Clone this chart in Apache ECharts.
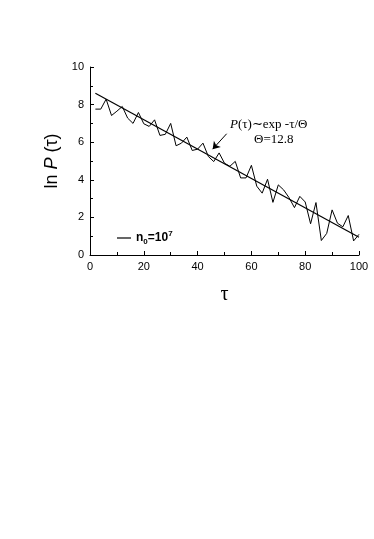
<!DOCTYPE html>
<html>
<head>
<meta charset="UTF-8">
<script src="https://cdn.jsdelivr.net/npm/echarts@6/dist/echarts.min.js"></script>
</head>
<body style="margin:0;background:#fff">
<div id="container" style="width:374px;height:539px;"></div>
<script>
// tau values (every 2 steps) and ln P(tau)
var tau = [2,4,6,8,10,12,14,16,18,20,22,24,26,28,30,32,34,36,38,40,42,44,46,48,50,
           52,54,56,58,60,62,64,66,68,70,72,74,76,78,80,82,84,86,88,90,92,94,96,98,100];
var lnP = [7.76,7.76,8.29,7.42,7.65,7.9,7.28,7.0,7.58,6.98,6.84,7.19,6.36,6.42,7.0,5.81,5.95,6.27,5.56,5.63,5.95,5.24,4.97,5.43,4.88,
           4.72,4.98,4.1,4.1,4.77,3.66,3.29,4.03,2.8,3.73,3.46,3.05,2.52,3.12,2.82,1.66,2.79,0.77,1.15,2.4,1.69,1.5,2.1,0.75,1.1];
// fitted line ln P = a - tau/Theta, Theta = 12.8
var fitTau = [2, 100];
var fitVal = [8.6, 0.94];
var arrowFrom = [50.8, 6.45];
var arrowTo = [45.6, 5.63];

var dom = document.getElementById("container");
var myChart = echarts.init(dom, null, { renderer: "canvas" });

var option = {
    animation: false,
    grid: { left: 90, right: 15, top: 67, bottom: 284 },
    legend: {
        data: [{ name: 'n0', icon: 'rect' }],
        left: 112, top: 225,
        itemWidth: 14, itemHeight: 1.2, itemGap: 4,
        formatter: function () { return '{b|n}{s|0}{b|=10}{p|7}'; },
        textStyle: {
            color: '#000',
            rich: {
                b: { fontFamily: 'Liberation Sans', fontWeight: 'bold', fontSize: 12, lineHeight: 16, verticalAlign: 'middle' },
                s: { fontFamily: 'Liberation Sans', fontWeight: 'bold', fontSize: 8, lineHeight: 16, verticalAlign: 'bottom' },
                p: { fontFamily: 'Liberation Sans', fontWeight: 'bold', fontSize: 8, lineHeight: 16, verticalAlign: 'top' }
            }
        }
    },
    xAxis: {
        type: 'value', min: 0, max: 100, interval: 20,
        name: 'τ', nameLocation: 'middle', nameGap: 30,
        nameTextStyle: { fontFamily: 'Liberation Serif', fontSize: 20, color: '#000' },
        axisLine: { lineStyle: { color: '#000', width: 1 } },
        axisTick: { inside: true, length: 4, lineStyle: { color: '#000' } },
        minorTick: { show: true, splitNumber: 2, length: 3, lineStyle: { color: '#000' } },
        axisLabel: { margin: 6, fontFamily: 'Liberation Sans', fontSize: 11, color: '#000' },
        splitLine: { show: false }
    },
    yAxis: {
        type: 'value', min: 0, max: 10, interval: 2,
        name: '{t|ln }{i|P}{t| (τ)}', nameLocation: 'middle', nameGap: 18,
        nameTextStyle: {
            color: '#000',
            rich: {
                t: { fontFamily: 'Liberation Sans', fontSize: 18, color: '#000' },
                i: { fontFamily: 'Liberation Sans', fontSize: 18, fontStyle: 'italic', color: '#000' }
            }
        },
        axisLine: { show: true, lineStyle: { color: '#000', width: 1 } },
        axisTick: { show: true, inside: true, length: 4, lineStyle: { color: '#000' } },
        minorTick: { show: true, splitNumber: 2, length: 3, lineStyle: { color: '#000' } },
        axisLabel: { margin: 6, fontFamily: 'Liberation Sans', fontSize: 11, color: '#000' },
        splitLine: { show: false }
    },
    series: [
        {
            name: 'n0', type: 'line', symbol: 'none',
            data: tau.map(function (t, i) { return [t, lnP[i]]; }),
            lineStyle: { color: '#000', width: 1 },
            itemStyle: { color: '#000' },
            markLine: {
                silent: true,
                symbol: ['none', 'arrow'], symbolSize: 7,
                label: { show: false },
                lineStyle: { color: '#000', width: 1, type: 'solid' },
                data: [[{ coord: arrowFrom }, { coord: arrowTo }]]
            }
        },
        {
            name: 'fit', type: 'line', symbol: 'none',
            data: fitTau.map(function (t, i) { return [t, fitVal[i]]; }),
            lineStyle: { color: '#000', width: 1.2 }
        }
    ],
    graphic: [
        {
            type: 'text', left: 230, top: 118,
            style: {
                text: '{i|P}{t|(τ)∼exp -τ/Θ}',
                rich: {
                    i: { fontFamily: 'Liberation Serif', fontSize: 13, fontStyle: 'italic', fill: '#000' },
                    t: { fontFamily: 'Liberation Serif', fontSize: 13, fill: '#000' }
                }
            }
        },
        {
            type: 'text', left: 254, top: 133,
            style: { text: 'Θ=12.8', fontFamily: 'Liberation Serif', fontSize: 13, fill: '#000' }
        }
    ]
};
myChart.setOption(option);
</script>
</body>
</html>
